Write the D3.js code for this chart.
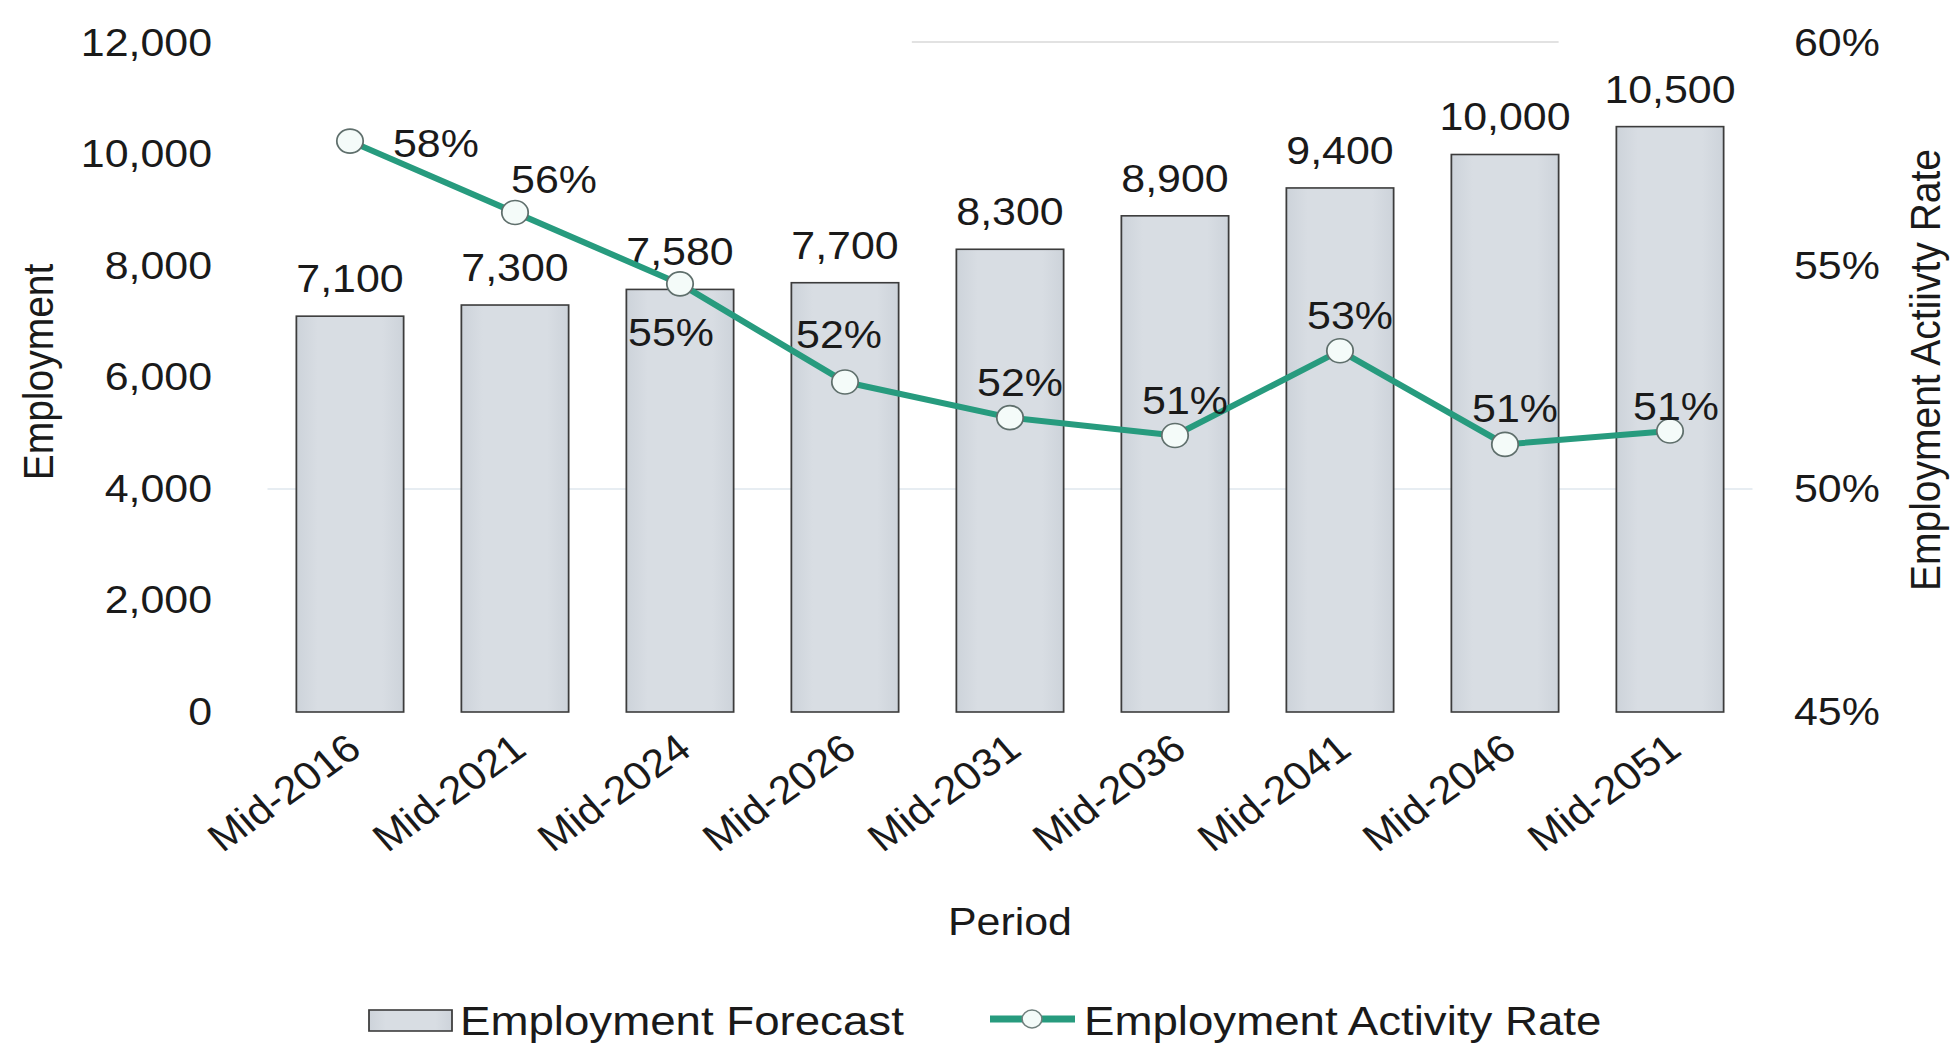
<!DOCTYPE html>
<html>
<head>
<meta charset="utf-8">
<script src="https://cdn.jsdelivr.net/npm/d3@7"></script>
<style>
  html, body { margin: 0; padding: 0; background: #ffffff; }
  svg { display: block; font-family: "Liberation Sans", Arial, sans-serif; }
</style>
</head>
<body>
<svg id="chart" width="1957" height="1046"></svg>
<script>
// Employment forecast (bars, left axis) and employment activity rate (line, right axis)
const periods = ["Mid-2016", "Mid-2021", "Mid-2024", "Mid-2026", "Mid-2031",
                 "Mid-2036", "Mid-2041", "Mid-2046", "Mid-2051"];
const employment = [7100, 7300, 7580, 7700, 8300, 8900, 9400, 10000, 10500];
const activityRate = [0.578, 0.562, 0.546, 0.524, 0.516, 0.512, 0.531, 0.510, 0.513];
const employmentTicks = [0, 2000, 4000, 6000, 8000, 10000, 12000];
const rateTicks = [0.45, 0.50, 0.55, 0.60];

// where each rate label sits relative to its marker
const rateLabelSide = ["right", "upright", "below", "high", "above", "above", "above", "above", "low"];

const W = 1957, H = 1046;
const SX = 1.1;                 // type in this chart is set slightly wide
const fx = v => v / SX;         // page x -> drawing x

const FONT = 39;
const BAR_STROKE = "#3c3c3c";
const LINE_COLOR = "#279b7e";

const svg = d3.select("#chart");
svg.append("rect").attr("width", W).attr("height", H).attr("fill", "#ffffff");

const defs = svg.append("defs");
const grad = defs.append("linearGradient").attr("id", "barGrad")
  .attr("x1", "0%").attr("x2", "100%").attr("y1", "0%").attr("y2", "0%");
grad.append("stop").attr("offset", "0%").attr("stop-color", "#cdd3da");
grad.append("stop").attr("offset", "20%").attr("stop-color", "#d8dde3");
grad.append("stop").attr("offset", "80%").attr("stop-color", "#d8dde3");
grad.append("stop").attr("offset", "100%").attr("stop-color", "#cdd3da");

const g = svg.append("g").attr("transform", `scale(${SX},1)`);

const x = d3.scaleBand()
  .domain(periods)
  .range([fx(267.5), fx(1752.5)])
  .paddingInner(0.35)
  .paddingOuter(0.175);

const yLeft = d3.scaleLinear().domain([0, 12000]).range([712, 43]);
const yRight = d3.scaleLinear().domain([0.45, 0.60]).range([712, 43]);

const fmtInt = d3.format(",");
const fmtPct = d3.format(".0%");

// faint grid traces
g.append("line")
  .attr("x1", x.range()[0]).attr("x2", x.range()[1])
  .attr("y1", yLeft(4000)).attr("y2", yLeft(4000))
  .attr("stroke", "#dfe7ee").attr("stroke-width", 1.5);
g.append("line")
  .attr("x1", x(periods[4]) - x.step() * 0.27)
  .attr("x2", x(periods[7]) + x.bandwidth())
  .attr("y1", yLeft(12000) - 1).attr("y2", yLeft(12000) - 1)
  .attr("stroke", "#e2e2e2").attr("stroke-width", 2);

// left axis
const leftAxis = g.append("g")
  .attr("transform", `translate(${fx(212)},0)`)
  .call(d3.axisLeft(yLeft).tickValues(employmentTicks).tickFormat(fmtInt).tickSize(0).tickPadding(0));
leftAxis.select(".domain").remove();
leftAxis.selectAll("text")
  .attr("font-size", FONT).attr("fill", "#1a1a1a")
  .attr("font-family", "'Liberation Sans', Arial, sans-serif");

// right axis
const rightAxis = g.append("g")
  .attr("transform", `translate(${fx(1794)},0)`)
  .call(d3.axisRight(yRight).tickValues(rateTicks).tickFormat(fmtPct).tickSize(0).tickPadding(0));
rightAxis.select(".domain").remove();
rightAxis.selectAll("text")
  .attr("font-size", FONT).attr("fill", "#1a1a1a")
  .attr("font-family", "'Liberation Sans', Arial, sans-serif");

// bars
g.selectAll("rect.bar")
  .data(periods)
  .join("rect")
  .attr("class", "bar")
  .attr("x", d => x(d))
  .attr("width", x.bandwidth())
  .attr("y", (d, i) => yLeft(employment[i]))
  .attr("height", (d, i) => yLeft(0) - yLeft(employment[i]))
  .attr("fill", "url(#barGrad)")
  .attr("stroke", BAR_STROKE)
  .attr("stroke-width", 1.6);

// bar value labels
g.selectAll("text.barLabel")
  .data(periods)
  .join("text")
  .attr("class", "barLabel")
  .attr("x", d => x(d) + x.bandwidth() / 2)
  .attr("y", (d, i) => yLeft(employment[i]) - 24)
  .attr("text-anchor", "middle")
  .attr("font-size", FONT)
  .attr("fill", "#1a1a1a")
  .text((d, i) => fmtInt(employment[i]));

// activity rate line
const cx = d => x(d) + x.bandwidth() / 2;
const line = d3.line()
  .x((d, i) => cx(periods[i]))
  .y(d => yRight(d));

g.append("path")
  .datum(activityRate)
  .attr("d", line)
  .attr("fill", "none")
  .attr("stroke", LINE_COLOR)
  .attr("stroke-width", 6)
  .attr("stroke-linejoin", "round");

g.selectAll("circle.pt")
  .data(activityRate)
  .join("circle")
  .attr("class", "pt")
  .attr("cx", (d, i) => cx(periods[i]))
  .attr("cy", d => yRight(d))
  .attr("r", 12)
  .attr("fill", "#f4fbf9")
  .attr("stroke", "#5f6f6c")
  .attr("stroke-width", 1.6);

const labelOffset = {
  right:   { dx: 43, dy: 2,   anchor: "start" },
  upright: { dx: 39, dy: -34, anchor: "middle" },
  below:   { dx: -9, dy: 48,  anchor: "middle" },
  high:    { dx: -6, dy: -48, anchor: "middle" },
  above:   { dx: 10, dy: -36, anchor: "middle" },
  low:     { dx: 6,  dy: -25, anchor: "middle" }
};

g.selectAll("text.rateLabel")
  .data(activityRate)
  .join("text")
  .attr("class", "rateLabel")
  .attr("x", (d, i) => cx(periods[i]) + fx(labelOffset[rateLabelSide[i]].dx))
  .attr("y", (d, i) => yRight(d) + labelOffset[rateLabelSide[i]].dy)
  .attr("dy", "0.36em")
  .attr("text-anchor", (d, i) => labelOffset[rateLabelSide[i]].anchor)
  .attr("font-size", FONT)
  .attr("fill", "#1a1a1a")
  .text(d => fmtPct(d));

// category labels, slanted
g.selectAll("text.cat")
  .data(periods)
  .join("text")
  .attr("class", "cat")
  .attr("transform", d => `translate(${cx(d) + fx(4)},${742}) rotate(-38)`)
  .attr("text-anchor", "end")
  .attr("dy", "0.36em")
  .attr("font-size", FONT)
  .attr("fill", "#1a1a1a")
  .text(d => d);

// axis titles
g.append("text")
  .attr("transform", `translate(${fx(38)},${372}) rotate(-90)`)
  .attr("text-anchor", "middle")
  .attr("dy", "0.36em")
  .attr("font-size", FONT)
  .attr("fill", "#1a1a1a")
  .text("Employment");

g.append("text")
  .attr("transform", `translate(${fx(1925)},${370}) rotate(-90)`)
  .attr("text-anchor", "middle")
  .attr("dy", "0.36em")
  .attr("font-size", FONT)
  .attr("fill", "#1a1a1a")
  .text("Employment  Actiivty Rate");

g.append("text")
  .attr("x", (x.range()[0] + x.range()[1]) / 2)
  .attr("y", 921)
  .attr("dy", "0.36em")
  .attr("text-anchor", "middle")
  .attr("font-size", FONT)
  .attr("fill", "#1a1a1a")
  .text("Period");

// legend
const legend = g.append("g");
legend.append("rect")
  .attr("x", fx(369)).attr("y", 1010)
  .attr("width", fx(83)).attr("height", 21)
  .attr("fill", "url(#barGrad)")
  .attr("stroke", BAR_STROKE).attr("stroke-width", 1.6);
legend.append("text")
  .attr("x", fx(460)).attr("y", 1020)
  .attr("dy", "0.36em")
  .attr("font-size", 41.5)
  .attr("fill", "#1a1a1a")
  .text("Employment Forecast");

legend.append("line")
  .attr("x1", fx(990)).attr("x2", fx(1075))
  .attr("y1", 1019).attr("y2", 1019)
  .attr("stroke", LINE_COLOR).attr("stroke-width", 7);
legend.append("circle")
  .attr("cx", fx(1032)).attr("cy", 1019).attr("r", 9)
  .attr("fill", "#f4fbf9")
  .attr("stroke", "#6f7f7c").attr("stroke-width", 1.4);
legend.append("text")
  .attr("x", fx(1084)).attr("y", 1020)
  .attr("dy", "0.36em")
  .attr("font-size", 41.5)
  .attr("fill", "#1a1a1a")
  .text("Employment Activity Rate");
</script>
</body>
</html>
